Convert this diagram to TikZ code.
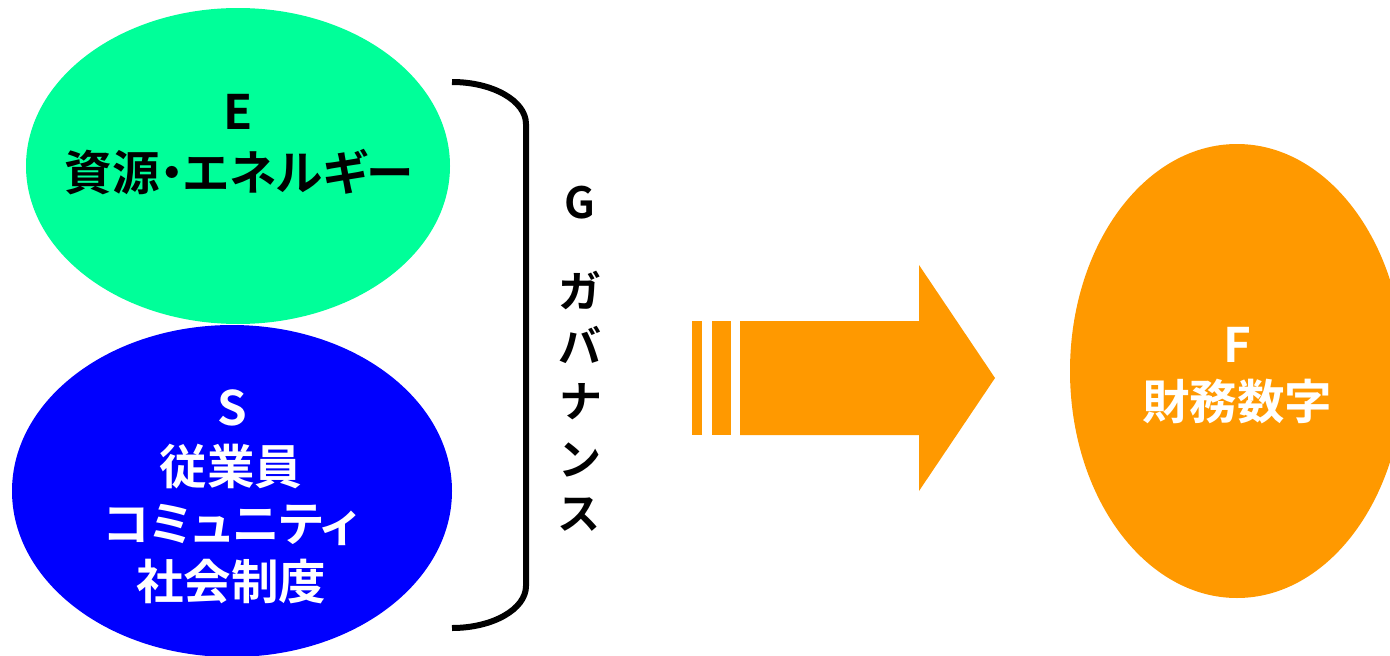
\documentclass[tikz,border=0pt]{standalone}
\usepackage{fontspec}
\newfontfamily\jpb{Noto Sans CJK JP}[UprightFont=* Bold, RawFeature=+palt]
\usetikzlibrary{shapes.geometric}
\definecolor{egreen}{RGB}{0,255,153}
\definecolor{sblue}{RGB}{0,0,255}
\definecolor{forange}{RGB}{255,153,0}
\tikzset{
  blob/.style={ellipse, draw=none, inner sep=0},
  lbl/.style={font=\jpb\fontsize{47.5}{56}\selectfont, inner sep=0},
  glbl/.style={font=\jpb\fontsize{43}{52}\selectfont, inner sep=0, text=black},
  bracket/.style={line width=6pt, black, line cap=butt},
}
\begin{document}
\begin{tikzpicture}[x=1pt,y=-1pt]
\useasboundingbox (0,0) rectangle (1390,656);
% ellipses
\node[blob, fill=egreen, minimum width=424pt, minimum height=316pt] (E) at (238,166) {};
\node[blob, fill=sblue, minimum width=440pt, minimum height=332pt] (S) at (232,491) {};
\node[blob, fill=forange, minimum width=334pt, minimum height=454pt] (F) at (1237,371) {};
% E labels
\node[lbl, text=black] (e1) at (238,112) {E};
\node[lbl, text=black] (e2) at (239,172) {資源・エネルギー};
% S labels
\node[lbl, text=white] (s1) at (232,408) {S};
\node[lbl, text=white] (s2) at (231,467) {従業員};
\node[lbl, text=white] (s3) at (231,525) {コミュニティ};
\node[lbl, text=white] (s4) at (231,582) {社会制度};
% F labels
\node[lbl, text=white] (f1) at (1237,345) {F};
\node[lbl, text=white] (f2) at (1237,402) {財務数字};
% G column
\node[glbl] (g0) at (580,203) {G};
\node[glbl] (g1) at (580,290) {ガ};
\node[glbl] (g2) at (580,345) {バ};
\node[glbl] (g3) at (580,402) {ナ};
\node[glbl] (g4) at (580,460) {ン};
\node[glbl] (g5) at (580,515) {ス};
% bracket
\coordinate (bt) at (452,82);
\coordinate (bb) at (452,628);
\draw[bracket] (bt) .. controls (493,82) and (526,101) .. (526,124)
  -- (526,586) .. controls (526,609) and (493,628) .. (bb);
% striped block arrow
\fill[forange] (692,321) rectangle (702,435);
\fill[forange] (712,321) rectangle (731,435);
\fill[forange] (740,321) -- (919,321) -- (919,265) -- (995,378)
  -- (919,491) -- (919,435) -- (740,435) -- cycle;
\end{tikzpicture}
\end{document}
